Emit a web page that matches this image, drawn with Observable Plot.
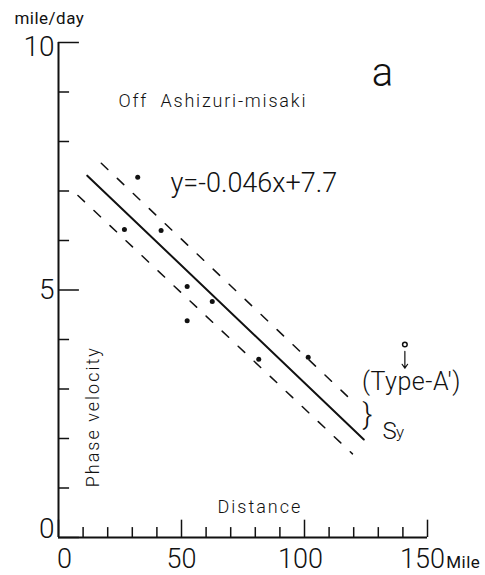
<!DOCTYPE html>
<html><head><meta charset="utf-8">
<script src="https://cdn.jsdelivr.net/npm/d3@7"></script>
<script src="https://cdn.jsdelivr.net/npm/@observablehq/plot@0.6"></script>
<style>body{margin:0;background:#fff}svg{display:block}</style>
</head><body><div id="chart"></div>
<script>
// observed points (distance in miles, phase velocity in mile/day)
const pointX = [32.2, 26.8, 41.7, 52.3, 62.5, 52.3, 81.4, 101.5];
const pointY = [7.28, 6.22, 6.20, 5.07, 4.77, 4.38, 3.60, 3.64];
// Type-A' point and its pointer arrow
const typeAX = [140.8];
const typeAY = [3.90];
const arrowY1 = [3.76];
const arrowY2 = [3.42];
// regression line and ±Sy band
const fitX = [11.7, 124.1];
const fitY = [7.31, 1.98];
const upperX = [17.4, 120.7];
const upperY = [7.56, 2.70];
const lowerX = [7.9, 119.5];
const lowerY = [6.91, 1.69];
// ticks
const xMajor = [0, 50, 100, 150];
const xMinor = [10, 20, 30, 40, 60, 70, 80, 90, 110, 120, 130, 140];
const xTickLabels = ["0", "50", "100", "150"];
const yMajor = [0, 5, 10];
const yMinor = [1, 2, 3, 4, 6, 7, 8, 9];
const yTickLabels = ["0", "5", "10"];
// annotations
const noteText = ["mile/day", "Off  Ashizuri-misaki", "a", "y=-0.046x+7.7", "Distance", "(Type-A′)", "}", "S", "y", "Mile"];
const noteX = [-3.7, 24.4, 131.7, 45.5, 64.6, 143.5, 125.6, 131.7, 137.2, 157.6];
const noteY = [10.37, 8.69, 9.13, 6.97, 0.505, 2.97, 2.30, 2.00, 2.02, -0.62];
const axisTitle = ["Phase velocity"];
const axisTitleX = [14.2];
const axisTitleY = [2.44];

const points = pointX.map((x, i) => ({x, y: pointY[i]}));
const line = (xs, ys) => xs.map((x, i) => ({x, y: ys[i]}));
const notes = noteText.map((t, i) => ({t, x: noteX[i], y: noteY[i]}));
const noteStyle = {
  "mile/day": {fontSize: 17, anchor: "middle", ls: 0.5, w: 400},
  "Off  Ashizuri-misaki": {fontSize: 18, anchor: "start", ls: 1.8, w: 300},
  "a": {fontSize: 40, anchor: "middle", ls: 0, w: 300},
  "y=-0.046x+7.7": {fontSize: 27, anchor: "start", ls: 0, w: 300},
  "Distance": {fontSize: 18, anchor: "start", ls: 2, w: 300},
  "(Type-A′)": {fontSize: 25, anchor: "middle", ls: 0.5, w: 300},
  "}": {fontSize: 30, anchor: "middle", ls: 0, w: 300},
  "S": {fontSize: 24, anchor: "start", ls: 0, w: 300},
  "y": {fontSize: 17, anchor: "start", ls: 0, w: 300},
  "Mile": {fontSize: 17, anchor: "start", ls: 0.5, w: 400}
};
const ink = "#111";
const font = "Roboto, 'Liberation Sans', sans-serif";

const textMarks = Object.keys(noteStyle).map(k => Plot.text(notes.filter(d => d.t === k), {
  x: "x", y: "y", text: "t", fontSize: noteStyle[k].fontSize, textAnchor: noteStyle[k].anchor,
  lineAnchor: "bottom", fill: ink, fontWeight: noteStyle[k].w
}));

// small pixel nudges for tick labels (style only)
const xLabelDx = [6, 0, -4, -5];
const yLabelDy = [-8, 0, 5];
const xLabelMarks = xMajor.map((v, i) => Plot.text([v], {x: d => d, y: () => 0, text: () => xTickLabels[i], dx: xLabelDx[i], dy: 30, lineAnchor: "bottom", fontSize: 27, fontWeight: 300, fill: ink}));
const yLabelMarks = yMajor.map((v, i) => Plot.text([v], {x: () => 0, y: d => d, text: () => yTickLabels[i], dx: -4, dy: yLabelDy[i], textAnchor: "end", lineAnchor: "middle", fontSize: 28, fontWeight: 300, fill: ink}));

// inward tick lengths expressed in axis units (≈10px minor, ≈17-20px major)
const xMinorLen = 0.2, xMajorLen = 0.35, yMinorLen = 4.5, yMajorLen = 8.5;

const chart = Plot.plot({
  width: 485,
  height: 575,
  marginLeft: 58,
  marginRight: 58,
  marginTop: 42,
  marginBottom: 38,
  style: {fontFamily: font, background: "#fff", overflow: "visible"},
  x: {domain: [0, 150], axis: null},
  y: {domain: [0, 10], axis: null},
  marks: [
    Plot.ruleX(xMinor, {x: d => d, y1: 0, y2: xMinorLen, stroke: ink, strokeWidth: 1.5}),
    Plot.ruleX(xMajor, {x: d => d, y1: 0, y2: xMajorLen, stroke: ink, strokeWidth: 1.5}),
    Plot.ruleY(yMinor, {y: d => d, x1: 0, x2: yMinorLen, stroke: ink, strokeWidth: 1.5}),
    Plot.ruleY(yMajor, {y: d => d, x1: 0, x2: yMajorLen, stroke: ink, strokeWidth: 1.5}),
    Plot.ruleY([0], {stroke: ink, strokeWidth: 2}),
    Plot.ruleX([0], {stroke: ink, strokeWidth: 2}),
    ...xLabelMarks,
    ...yLabelMarks,
    Plot.line(line(fitX, fitY), {x: "x", y: "y", stroke: ink, strokeWidth: 2}),
    Plot.line(line(upperX, upperY), {x: "x", y: "y", stroke: ink, strokeWidth: 1.5, strokeDasharray: "9,13"}),
    Plot.line(line(lowerX, lowerY), {x: "x", y: "y", stroke: ink, strokeWidth: 1.5, strokeDasharray: "9,13"}),
    Plot.dot(points, {x: "x", y: "y", r: 2.5, fill: ink, stroke: "none"}),
    Plot.dot(line(typeAX, typeAY), {x: "x", y: "y", r: 2.3, fill: "#fff", stroke: ink, strokeWidth: 1.5}),
    Plot.arrow(typeAX.map((x, i) => ({x, y1: arrowY1[i], y2: arrowY2[i]})), {x1: "x", x2: "x", y1: "y1", y2: "y2", stroke: ink, strokeWidth: 1.2, headLength: 6, headAngle: 70}),
    ...textMarks,
    Plot.text(axisTitle, {x: () => axisTitleX[0], y: () => axisTitleY[0], text: d => d, rotate: -90, fontSize: 18, fontWeight: 300, fill: ink, textAnchor: "middle", lineAnchor: "middle"})
  ]
});
document.getElementById("chart").append(chart);
// letter spacing styles for annotation texts
chart.querySelectorAll("text").forEach(t => {
  const s = noteStyle[t.textContent];
  if (s && s.ls) t.setAttribute("letter-spacing", s.ls);
  if (t.textContent === "Phase velocity") t.setAttribute("letter-spacing", 2);
});
</script>
</body></html>
